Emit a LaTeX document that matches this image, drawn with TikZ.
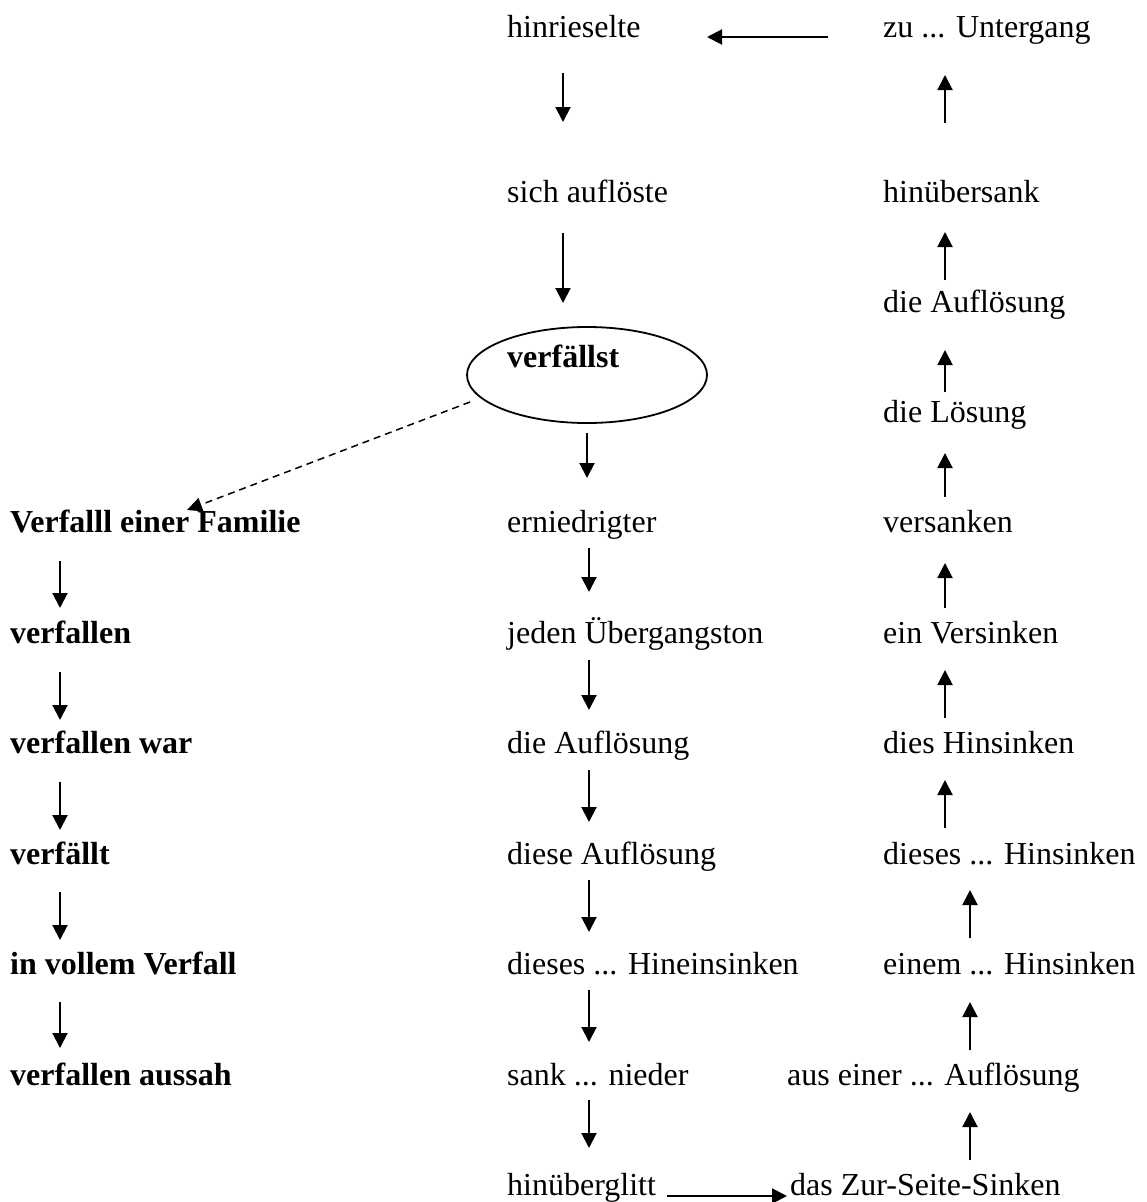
\documentclass[tikz,border=0pt]{standalone}
\usepackage{fontspec}
\setmainfont{Liberation Serif}
\usetikzlibrary{arrows.meta}
\begin{document}
\begin{tikzpicture}[x=1pt,y=-1pt,
  lbl/.style={anchor=base west,inner sep=0pt,font=\fontsize{32}{38}\selectfont},
  blbl/.style={lbl,font=\fontsize{32}{38}\selectfont\bfseries},
  arr/.style={line width=2pt,-{Triangle[length=15pt,width=15pt]}},
  darr/.style={line width=1.5pt,dash pattern=on 7pt off 5pt,-{Triangle[length=15pt,width=14pt]}}]
\useasboundingbox (0,0) rectangle (1146,1202);
% middle column
\node[lbl] (m1) at (507,37) {hinrieselte};
\node[lbl] (m2) at (507,202) {sich auflöste};
\draw[line width=1.8pt] (587,375) ellipse [x radius=120, y radius=48];
\coordinate (ell) at (587,375);
\node[blbl] (m3) at (507,367) {verfällst};
\node[lbl] (m4) at (507,532) {erniedrigter};
\node[lbl] (m5) at (507,643) {jeden Übergangston};
\node[lbl] (m6) at (507,753) {die Auflösung};
\node[lbl] (m7) at (507,864) {diese Auflösung};
\node[lbl] (m8) at (507,974) {dieses ... Hineinsinken};
\node[lbl] (m9) at (507,1085) {sank ... nieder};
\node[lbl] (m10) at (507,1195) {hinüberglitt};
% right column
\node[lbl] (r1) at (883,37) {zu ... Untergang};
\node[lbl] (r2) at (883,202) {hinübersank};
\node[lbl] (r3) at (883,312) {die Auflösung};
\node[lbl] (r4) at (883,422) {die Lösung};
\node[lbl] (r5) at (883,532) {versanken};
\node[lbl] (r6) at (883,643) {ein Versinken};
\node[lbl] (r7) at (883,753) {dies Hinsinken};
\node[lbl] (r8) at (883,864) {dieses ... Hinsinken};
\node[lbl] (r9) at (883,974) {einem ... Hinsinken};
\node[lbl] (r10) at (787,1085) {aus einer ... Auflösung};
\node[lbl] (r11) at (790,1195) {das Zur-Seite-Sinken};
% left column
\node[blbl] (l1) at (10,532) {Verfalll einer Familie};
\node[blbl] (l2) at (10,643) {verfallen};
\node[blbl] (l3) at (10,753) {verfallen war};
\node[blbl] (l4) at (10,864) {verfällt};
\node[blbl] (l5) at (10,974) {in vollem Verfall};
\node[blbl] (l6) at (10,1085) {verfallen aussah};
% arrow end points
\coordinate (h1a) at (828,37);  \coordinate (h1b) at (707,37);
\coordinate (h2a) at (667,1196); \coordinate (h2b) at (787,1196);
\coordinate (da) at (470,402); \coordinate (db) at (187,510);
% middle arrows
\foreach \x/\a/\b [count=\i] in {563/73/122, 563/233/303, 587/433/478, 589/548/592, 589/660/710, 589/770/822, 589/880/932, 589/990/1042, 589/1100/1148}{
  \coordinate (ma\i) at (\x,\a); \coordinate (mb\i) at (\x,\b);
  \draw[arr] (ma\i) -- (mb\i);
}
% left arrows
\foreach \a/\b [count=\i] in {561/608, 672/720, 782/830, 892/940, 1002/1048}{
  \coordinate (la\i) at (60,\a); \coordinate (lb\i) at (60,\b);
  \draw[arr] (la\i) -- (lb\i);
}
% right arrows (upwards)
\foreach \x/\a/\b [count=\i] in {945/123/75, 945/280/232, 945/392/350, 945/497/453, 945/608/563, 945/718/670, 945/828/780, 970/938/890, 970/1050/1002, 970/1160/1112}{
  \coordinate (ra\i) at (\x,\a); \coordinate (rb\i) at (\x,\b);
  \draw[arr] (ra\i) -- (rb\i);
}
\draw[arr] (h1a) -- (h1b);
\draw[arr] (h2a) -- (h2b);
\draw[darr] (da) -- (db);
\end{tikzpicture}
\end{document}
